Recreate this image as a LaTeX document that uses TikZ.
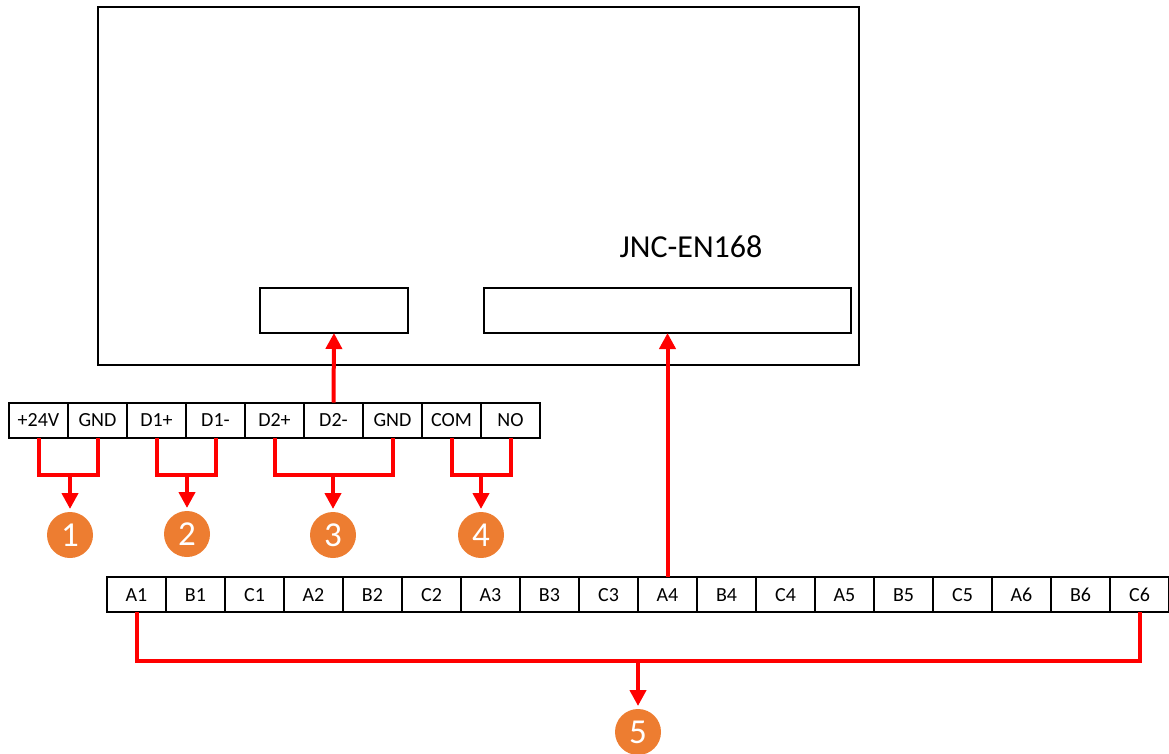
\documentclass[tikz,border=0pt]{standalone}
\usepackage{fontspec}
\setmainfont{Carlito}
\usetikzlibrary{arrows.meta}

\tikzset{
	box/.style={shape=rectangle,draw=black,line width=2pt,inner sep=0pt,outer sep=0pt},
	cell/.style={box,minimum width=59pt,minimum height=35pt,text height=13pt,text depth=0pt,font=\fontsize{20}{22}\selectfont},
	badge/.style={shape=circle,fill=badgeorange,text=white,minimum size=46pt,inner sep=0pt,outer sep=3pt,font=\fontsize{35}{37}\selectfont},
	wire/.style={draw=red,line width=4pt,line join=miter},
	feed/.style={wire,-{Triangle[length=16pt,width=16pt]}}
}
\definecolor{badgeorange}{HTML}{ED7D31}

\begin{document}
\begin{tikzpicture}[x=1pt,y=-1pt]
	\useasboundingbox (0,0) rectangle (1169,753);

	\node[box,minimum width=761pt,minimum height=358pt] (unit) at (478.5, 186) {};
	\node[box,minimum width=148pt,minimum height=45pt] (portl) at (334, 310.5) {};
	\node[box,minimum width=367pt,minimum height=45pt] (portr) at (667.5, 310.5) {};
	\node[font=\fontsize{32}{34}\selectfont] (model) at (691, 247) {JNC-EN168};

	\node[cell] (vcc) at (38.5, 420)   {+24V};
	\node[cell] (gnda) at (97.5, 420)  {GND};
	\node[cell] (dap) at (156.5, 420)  {D1+};
	\node[cell] (dam) at (215.5, 420)  {D1-};
	\node[cell] (dbp) at (274.5, 420)  {D2+};
	\node[cell] (dbm) at (333.5, 420)  {D2-};
	\node[cell] (gndb) at (392.5, 420) {GND};
	\node[cell] (com) at (451.5, 420)  {COM};
	\node[cell] (no) at (510.5, 420)   {NO};

	\node[cell] (a1) at (136.5, 594.5)  {A1};
	\node[cell] (b1) at (195.5, 594.5)  {B1};
	\node[cell] (c1) at (254.5, 594.5)  {C1};
	\node[cell] (a2) at (313.5, 594.5)  {A2};
	\node[cell] (b2) at (372.5, 594.5)  {B2};
	\node[cell] (c2) at (431.5, 594.5)  {C2};
	\node[cell] (a3) at (490.5, 594.5)  {A3};
	\node[cell] (b3) at (549.5, 594.5)  {B3};
	\node[cell] (c3) at (608.5, 594.5)  {C3};
	\node[cell] (a4) at (667.5, 594.5)  {A4};
	\node[cell] (b4) at (726.5, 594.5)  {B4};
	\node[cell] (c4) at (785.5, 594.5)  {C4};
	\node[cell] (a5) at (844.5, 594.5)  {A5};
	\node[cell] (b5) at (903.5, 594.5)  {B5};
	\node[cell] (c5) at (962.5, 594.5)  {C5};
	\node[cell] (a6) at (1021.5, 594.5) {A6};
	\node[cell] (b6) at (1080.5, 594.5) {B6};
	\node[cell] (c6) at (1139.5, 594.5) {C6};

	\node[badge] (one) at (70, 535)     {1};
	\node[badge] (two) at (187, 534)    {2};
	\node[badge] (three) at (333, 535)  {3};
	\node[badge] (four) at (481, 535)   {4};
	\node[badge] (five) at (638, 732)   {5};

	\coordinate (joina) at (70, 474.5);
	\coordinate (joinb) at (187, 474.5);
	\coordinate (joinc) at (333, 474.5);
	\coordinate (joind) at (481, 474.5);
	\coordinate (joine) at (638, 660.5);

	\path[wire] (vcc.south) |- (joina) -| (gnda.south);
	\path[wire] (dap.south) |- (joinb) -| (dam.south);
	\path[wire] (dbp.south) |- (joinc) -| (gndb.south);
	\path[wire] (com.south) |- (joind) -| (no.south);
	\path[wire] (a1.south) |- (joine) -| (c6.south);

	\path[feed] (joina) -- (one);
	\path[feed] (joinb) -- (two);
	\path[feed] (joinc) -- (three);
	\path[feed] (joind) -- (four);
	\path[feed] (joine) -- (five);
	\path[feed] (dbm.north) -- (portl.south);
	\path[feed] (a4.north) -- (portr.south);
	\end{tikzpicture}
\end{document}
